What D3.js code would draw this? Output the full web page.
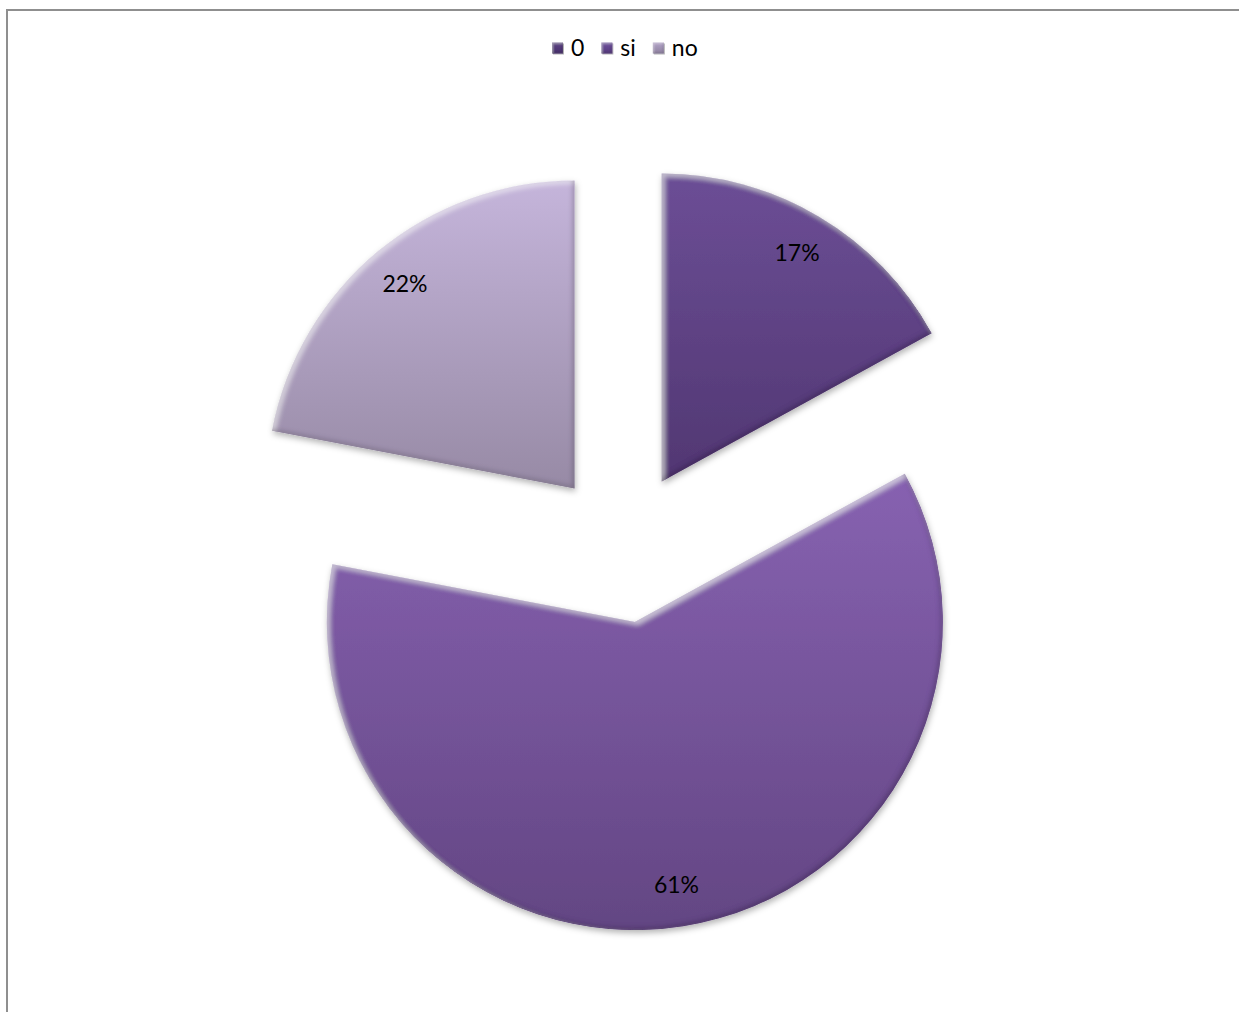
<!DOCTYPE html>
<html>
<head>
<meta charset="utf-8">
<script src="https://cdn.jsdelivr.net/npm/d3@7"></script>
<style>
  html, body { margin: 0; padding: 0; background: #fff; }
  svg { display: block; font-family: Lato, "Open Sans", "Noto Sans", sans-serif; }
</style>
</head>
<body>
<svg id="chart" width="1239" height="1012"></svg>
<script>
// Survey answers and their shares (percent)
const categories = ["0", "si", "no"];
const shares = [17, 61, 22];

const W = 1239, H = 1012;
const cx = 623, cy = 547;      // pie centre
const radius = 308;
const explode = 76;            // distance each slice is pulled out
const labelRadius = 266;

// top / bottom shades of each slice's vertical gradient
const topColor = d3.scaleOrdinal(categories, ["#6c4e96", "#8762b1", "#c5b5db"]);
const bottomColor = d3.scaleOrdinal(categories, ["#513772", "#634683", "#978aa5"]);
const legendTop = d3.scaleOrdinal(categories, ["#5e4386", "#7153a0", "#b3a4c8"]);
const legendBottom = d3.scaleOrdinal(categories, ["#47306a", "#55397a", "#8e819f"]);

const svg = d3.select("#chart");
const defs = svg.append("defs");

// soft bevel: light along upper-left edges, dark along lower-right, plus a drop shadow
function bevelFilter(id, blur, shift, shadowBlur, shadowDy, hiOpacity, loOpacity) {
  const f = defs.append("filter").attr("id", id)
    .attr("x", "-10%").attr("y", "-10%").attr("width", "120%").attr("height", "125%");
  f.append("feGaussianBlur").attr("in", "SourceAlpha").attr("stdDeviation", blur).attr("result", "b");
  f.append("feOffset").attr("in", "b").attr("dx", shift).attr("dy", shift).attr("result", "bDown");
  f.append("feComposite").attr("in", "SourceAlpha").attr("in2", "bDown")
    .attr("operator", "arithmetic").attr("k2", 1).attr("k3", -1).attr("result", "hiMask");
  f.append("feFlood").attr("flood-color", "#ffffff").attr("flood-opacity", hiOpacity).attr("result", "white");
  f.append("feComposite").attr("in", "white").attr("in2", "hiMask").attr("operator", "in").attr("result", "hi");
  f.append("feOffset").attr("in", "b").attr("dx", -shift).attr("dy", -shift).attr("result", "bUp");
  f.append("feComposite").attr("in", "SourceAlpha").attr("in2", "bUp")
    .attr("operator", "arithmetic").attr("k2", 1).attr("k3", -1).attr("result", "loMask");
  f.append("feFlood").attr("flood-color", "#1a0f2a").attr("flood-opacity", loOpacity).attr("result", "dark");
  f.append("feComposite").attr("in", "dark").attr("in2", "loMask").attr("operator", "in").attr("result", "lo");
  f.append("feGaussianBlur").attr("in", "SourceAlpha").attr("stdDeviation", shadowBlur).attr("result", "sb");
  f.append("feOffset").attr("in", "sb").attr("dx", 1).attr("dy", shadowDy).attr("result", "so");
  f.append("feFlood").attr("flood-color", "#000").attr("flood-opacity", 0.3).attr("result", "sc");
  f.append("feComposite").attr("in", "sc").attr("in2", "so").attr("operator", "in").attr("result", "shadow");
  const m = f.append("feMerge");
  ["shadow", "SourceGraphic", "hi", "lo"].forEach(n => m.append("feMergeNode").attr("in", n));
}
bevelFilter("bevel", 2.5, 2.5, 3, 3, 0.5, 0.45);
bevelFilter("bevelSmall", 0.8, 1, 0.6, 0.8, 0.35, 0.3);

function gradient(id, c0, c1) {
  const g = defs.append("linearGradient").attr("id", id)
    .attr("x1", 0).attr("y1", 0).attr("x2", 0).attr("y2", 1);
  g.append("stop").attr("offset", "0%").attr("stop-color", c0);
  g.append("stop").attr("offset", "100%").attr("stop-color", c1);
}
categories.forEach((c, i) => {
  gradient("slice-" + i, topColor(c), bottomColor(c));
  gradient("key-" + i, legendTop(c), legendBottom(c));
});

// chart area frame
svg.append("rect")
  .attr("x", 7).attr("y", 10).attr("width", W + 100).attr("height", H + 100)
  .attr("fill", "none").attr("stroke", "#8f8f8f").attr("stroke-width", 2);

const data = categories.map((c, i) => ({ category: c, value: shares[i], index: i }));
const total = d3.sum(shares);
const pie = d3.pie().value(d => d.value).sort(null).startAngle(0).endAngle(2 * Math.PI);
const arcs = pie(data);
const arc = d3.arc().innerRadius(0).outerRadius(radius);
const labelArc = d3.arc().innerRadius(labelRadius).outerRadius(labelRadius);
const pct = d3.format(".0%");

const slices = svg.append("g").attr("transform", `translate(${cx},${cy})`)
  .selectAll("g.slice").data(arcs).join("g").attr("class", "slice")
  .attr("transform", d => {
    const mid = (d.startAngle + d.endAngle) / 2;
    return `translate(${Math.sin(mid) * explode},${-Math.cos(mid) * explode})`;
  });

slices.append("path")
  .attr("d", arc)
  .attr("fill", d => `url(#slice-${d.data.index})`)
  .attr("filter", "url(#bevel)");

slices.append("text")
  .attr("transform", d => `translate(${labelArc.centroid(d)})`)
  .attr("text-anchor", "middle")
  .attr("dy", "0.36em")
  .attr("font-size", 23)
  .attr("fill", "#000")
  .text(d => pct(d.data.value / total));

// legend
const legend = svg.append("g").attr("transform", "translate(0,48)");
let x = 552;
categories.forEach((c, i) => {
  const item = legend.append("g");
  item.append("rect").attr("x", x).attr("y", -5.5).attr("width", 11).attr("height", 11)
    .attr("fill", `url(#key-${i})`).attr("filter", "url(#bevelSmall)");
  const t = item.append("text").attr("x", x + 19).attr("dy", "0.36em")
    .attr("font-size", 23).attr("fill", "#000").text(c);
  x += 19 + t.node().getComputedTextLength() + 17;
});
</script>
</body>
</html>
